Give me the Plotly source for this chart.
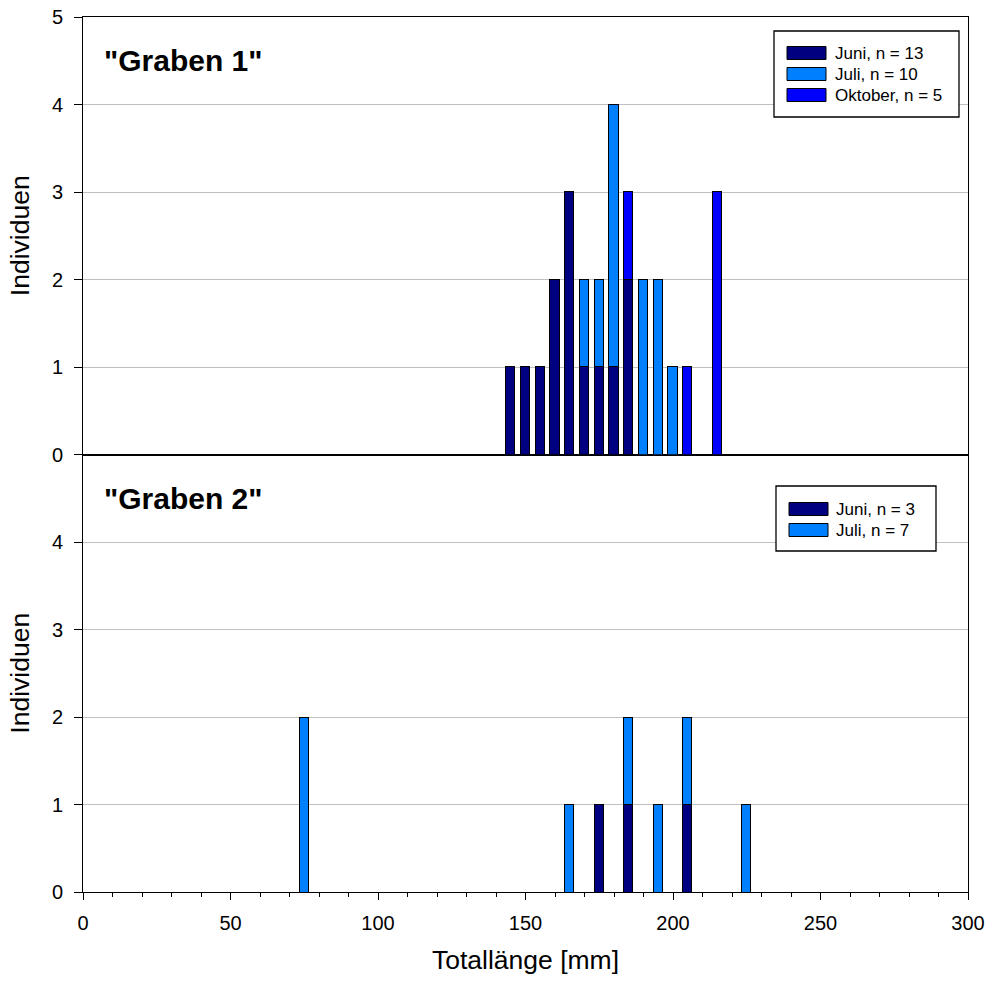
import plotly.graph_objects as go

# Graben 1 data
g1_len = [145, 150, 155, 160, 165, 170, 175, 180, 185, 190, 195, 200, 205, 215]
g1_juni = [1, 1, 1, 2, 3, 1, 1, 1, 2, 0, 0, 0, 0, 0]
g1_juli = [0, 0, 0, 0, 0, 1, 1, 3, 0, 2, 2, 1, 0, 0]
g1_okt = [0, 0, 0, 0, 0, 0, 0, 0, 1, 0, 0, 0, 1, 3]
g1_names = ["Juni, n = 13", "Juli, n = 10", "Oktober, n = 5"]

# Graben 2 data
g2_len = [75, 165, 175, 185, 195, 205, 225]
g2_juni = [0, 0, 1, 1, 0, 1, 0]
g2_juli = [2, 1, 0, 1, 1, 1, 1]
g2_names = ["Juni, n = 3", "Juli, n = 7"]

x_ticks = [0, 50, 100, 150, 200, 250, 300]

C_JUNI = "#000080"
C_JULI = "#0080FF"
C_OKT = "#0000FF"
FONT = "Liberation Sans, Arial, sans-serif"

fig = go.Figure()
mk = lambda c: dict(color=c, line=dict(color="#000000", width=1))
W = 3.1

g1_series = [(g1_juni, C_JUNI), (g1_juli, C_JULI), (g1_okt, C_OKT)]
g2_series = [(g2_juni, C_JUNI), (g2_juli, C_JULI)]

for (vals, col), nm in zip(g1_series, g1_names):
    fig.add_trace(go.Bar(x=g1_len, y=vals, width=W, name=nm, marker=mk(col),
                         xaxis="x2", yaxis="y2", showlegend=False))
for (vals, col), nm in zip(g2_series, g2_names):
    fig.add_trace(go.Bar(x=g2_len, y=vals, width=W, name=nm, marker=mk(col),
                         xaxis="x", yaxis="y", showlegend=False))

# --- custom legends (wide swatches like the original) ---
PL, PR, PT, PB = 83.0, 968.0, 17.0, 892.0   # plot area in page pixels
px = lambda v: (v - PL) / (PR - PL)
py = lambda v: (PB - v) / (PB - PT)

shapes = []
annotations = []

def add_legend(box, rows, names, cols, sw_x0, sw_x1, txt_x):
    x0, y0, x1, y1 = box
    shapes.append(dict(type="rect", xref="paper", yref="paper",
                       x0=px(x0), x1=px(x1), y0=py(y1), y1=py(y0),
                       fillcolor="#ffffff", line=dict(color="#000000", width=1.3), layer="above"))
    for ry, nm, col in zip(rows, names, cols):
        shapes.append(dict(type="rect", xref="paper", yref="paper",
                           x0=px(sw_x0), x1=px(sw_x1), y0=py(ry + 6.5), y1=py(ry - 6.5),
                           fillcolor=col, line=dict(color="#000000", width=1), layer="above"))
        annotations.append(dict(text=nm, xref="paper", yref="paper", x=px(txt_x), y=py(ry),
                                xanchor="left", yanchor="middle", showarrow=False,
                                font=dict(size=17, color="#000000", family=FONT)))

add_legend((774, 31, 959, 117), [53, 74, 95], g1_names, [C_JUNI, C_JULI, C_OKT], 787, 826, 833)
add_legend((776, 486, 936, 551), [509, 530], g2_names, [C_JUNI, C_JULI], 789, 828, 834)

annotations += [
    dict(text='<b>"Graben 1"</b>', xref="paper", yref="paper", x=0.021, y=0.95,
         xanchor="left", yanchor="middle", showarrow=False,
         font=dict(size=30, color="#000000", family=FONT)),
    dict(text='<b>"Graben 2"</b>', xref="paper", yref="paper", x=0.021, y=0.450,
         xanchor="left", yanchor="middle", showarrow=False,
         font=dict(size=30, color="#000000", family=FONT)),
]

yax_common = dict(range=[0, 5], showgrid=True, gridcolor="#c0c0c0", gridwidth=1,
                  showline=True, linecolor="#000000", linewidth=1, mirror=True,
                  ticks="outside", ticklen=8, tickcolor="#000000", ticklabelstandoff=7,
                  ticklabeloverflow="allow", automargin=False,
                  tickfont=dict(size=20, color="#000000", family=FONT),
                  title=dict(text="Individuen", font=dict(size=26.5, color="#000000", family=FONT), standoff=14),
                  zeroline=False)

fig.update_layout(
    width=992, height=983,
    margin=dict(l=83, r=24, t=17, b=91, autoexpand=False),
    paper_bgcolor="#ffffff", plot_bgcolor="#ffffff",
    barmode="stack", bargap=0,
    font=dict(family=FONT, color="#000000"),
    showlegend=False,
    xaxis=dict(domain=[0, 1], range=[0, 300], anchor="y",
               tickvals=x_ticks, ticklabeloverflow="allow", automargin=False,
               showline=True, linecolor="#000000", linewidth=1, mirror=True,
               ticks="outside", ticklen=7, tickcolor="#000000", ticklabelstandoff=6,
               minor=dict(dtick=10, tick0=0, ticks="outside", ticklen=4, tickcolor="#000000", showgrid=False),
               tickfont=dict(size=20, color="#000000", family=FONT),
               title=dict(text="Totallänge [mm]", font=dict(size=26.5, color="#000000", family=FONT), standoff=17),
               showgrid=False, zeroline=False),
    xaxis2=dict(domain=[0, 1], range=[0, 300], anchor="y2", matches="x", automargin=False,
                showticklabels=False, ticks="",
                showline=True, linecolor="#000000", linewidth=1, mirror=True,
                showgrid=False, zeroline=False),
    yaxis=dict(domain=[0, 0.5], anchor="x", tickvals=[0, 1, 2, 3, 4], **yax_common),
    yaxis2=dict(domain=[0.5, 1], anchor="x2", tickvals=[0, 1, 2, 3, 4, 5], **yax_common),
    shapes=shapes,
    annotations=annotations,
)

fig.write_html("out.html",
               config={"displayModeBar": False},
               post_script="document.body.style.margin='0';document.body.style.overflow='hidden';")
